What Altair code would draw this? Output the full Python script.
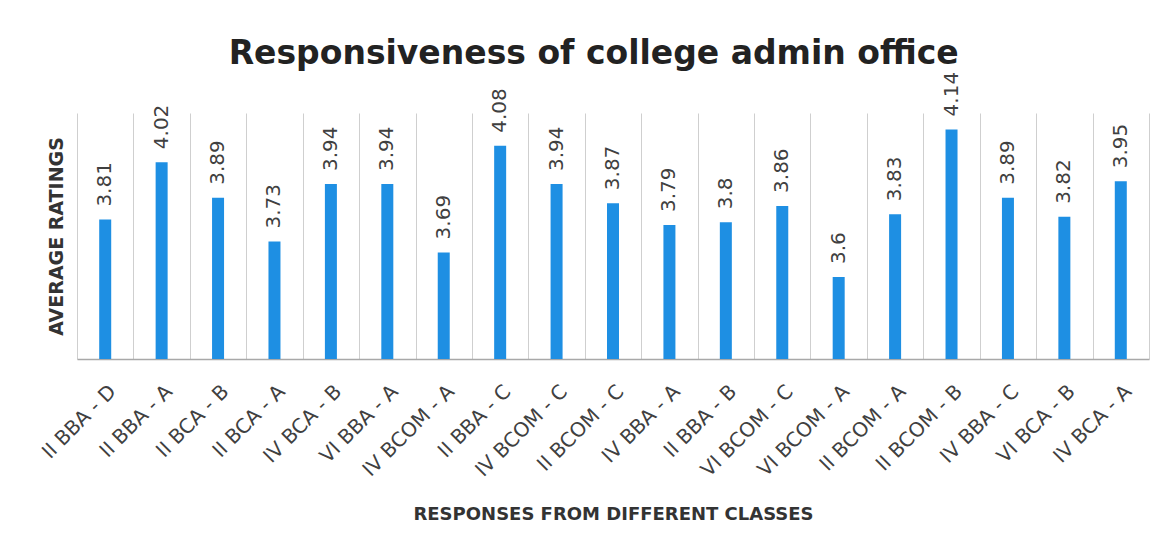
import altair as alt
import pandas as pd

classes = ["II BBA - D", "II BBA - A", "II BCA - B", "II BCA - A", "IV BCA - B",
           "VI BBA - A", "IV BCOM - A", "II BBA - C", "IV BCOM - C", "II BCOM - C",
           "IV BBA - A", "II BBA - B", "VI BCOM - C", "VI BCOM - A", "II BCOM - A",
           "II BCOM - B", "IV BBA - C", "VI BCA - B", "IV BCA - A"]
ratings = [3.81, 4.02, 3.89, 3.73, 3.94, 3.94, 3.69, 4.08, 3.94, 3.87,
           3.79, 3.8, 3.86, 3.6, 3.83, 4.14, 3.89, 3.82, 3.95]
labels = ["3.81", "4.02", "3.89", "3.73", "3.94", "3.94", "3.69", "4.08", "3.94", "3.87",
          "3.79", "3.8", "3.86", "3.6", "3.83", "4.14", "3.89", "3.82", "3.95"]

df = pd.DataFrame({"cls": classes, "rating": ratings, "label": labels})

W, H = 1072, 246
BLUE = "#1e8fe3"

x_enc = alt.X(
    "cls:N", sort=classes,
    scale=alt.Scale(paddingInner=0, paddingOuter=0),
    axis=alt.Axis(
        title="RESPONSES FROM DIFFERENT CLASSES",
        titleFont="DejaVu Sans", titleFontSize=18, titleFontWeight="bold",
        titleColor="#333333", titlePadding=25,
        labelAngle=-45, labelFont="DejaVu Sans", labelFontSize=20,
        labelColor="#404040", labelPadding=22,
        ticks=False, grid=True, tickBand="extent",
        gridColor="#cfcfcf", gridWidth=1,
        domain=True, domainColor="#a8a8a8", domainWidth=1.5,
    ),
)
y_enc = alt.Y(
    "rating:Q",
    scale=alt.Scale(domain=[3.3, 4.2], zero=False, nice=False),
    axis=alt.Axis(
        title="AVERAGE RATINGS",
        titleFont="DejaVu Sans", titleFontSize=19, titleFontWeight="bold",
        titleColor="#333333", titlePadding=11,
        labels=False, ticks=False, domain=False, grid=False,
    ),
)

base = alt.Chart(df)
bars = base.mark_bar(size=12, color=BLUE, clip=True).encode(x=x_enc, y=y_enc)
text = base.mark_text(
    angle=270, align="left", baseline="middle", dx=13,
    font="DejaVu Sans", fontSize=20, color="#404040",
).encode(x=alt.X("cls:N", sort=classes), y=alt.Y("rating:Q"), text="label:N")

chart = alt.layer(bars, text).properties(
    width=W, height=H,
    padding={"left": 30, "top": 29, "right": 5, "bottom": 5},
    title=alt.TitleParams(
        "Responsiveness of college admin office",
        font="DejaVu Sans", fontSize=33, fontWeight="bold", color="#222222",
        anchor="middle", frame="bounds", offset=1,
    ),
).configure_view(stroke=None)

chart.save("out.html", embed_options={"renderer": "svg", "actions": False})
